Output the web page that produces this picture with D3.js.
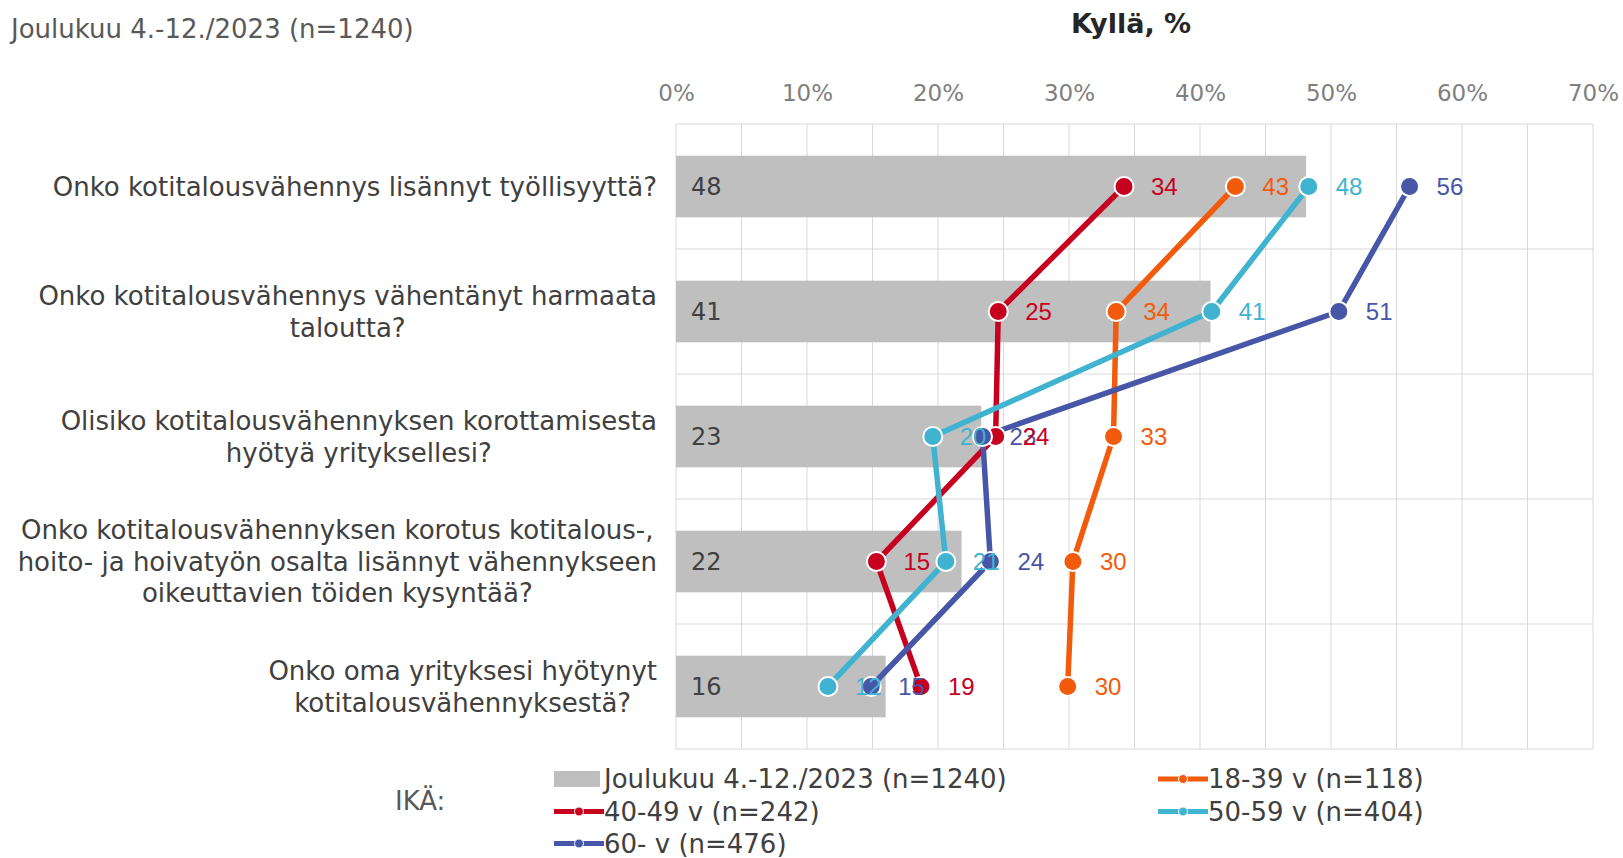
<!DOCTYPE html>
<html><head><meta charset="utf-8">
<script src="https://cdn.jsdelivr.net/npm/d3@7"></script>
<style>body{margin:0;background:#fff}</style>
</head><body><svg id="c" width="1623" height="858"></svg>
<script>
// ---- data ----
const categories = [
  ["Onko kotitalousvähennys lisännyt työllisyyttä?"],
  ["Onko kotitalousvähennys vähentänyt harmaata", "taloutta?"],
  ["Olisiko kotitalousvähennyksen korottamisesta", "hyötyä yrityksellesi?"],
  ["Onko kotitalousvähennyksen korotus kotitalous-,", "hoito- ja hoivatyön osalta lisännyt vähennykseen", "oikeuttavien töiden kysyntää?"],
  ["Onko oma yrityksesi hyötynyt", "kotitalousvähennyksestä?"]
];
const totalValues = [48.1, 40.8, 23.3, 21.8, 16.0];
const age1839 = [42.7, 33.6, 33.4, 30.3, 29.9];
const age4049 = [34.2, 24.6, 24.4, 15.3, 18.7];
const age5059 = [48.3, 40.9, 19.6, 20.6, 11.6];
const age60 = [56.0, 50.6, 23.4, 24.0, 14.9];
const xTickValues = [0, 10, 20, 30, 40, 50, 60, 70];
const totalName = "Joulukuu 4.-12./2023 (n=1240)";
const seriesNames = ["18-39 v (n=118)", "40-49 v (n=242)", "50-59 v (n=404)", "60- v (n=476)"];
const seriesColors = ["#F25A0C", "#C6001E", "#3FB3CF", "#4756A7"];

// ---- layout ----
const svg = d3.select("#c");
const L = 676, R = 1593, T = 124, B = 749;
const x = d3.scaleLinear().domain([0, 70]).range([L, R]);
const y = d3.scaleBand().domain(d3.range(categories.length)).range([T, B]).padding(0);
const barH = y.bandwidth() * 0.493;
const fmt = d3.format(".0f");

// gridlines
svg.append("g").selectAll("line").data(d3.range(0, 71, 5)).join("line")
  .attr("x1", d => x(d)).attr("x2", d => x(d)).attr("y1", T).attr("y2", B)
  .attr("stroke", "#d9d9d9").attr("stroke-width", 1);
svg.append("g").selectAll("line").data(d3.range(categories.length + 1)).join("line")
  .attr("x1", L).attr("x2", R)
  .attr("y1", i => i < categories.length ? y(i) : B).attr("y2", i => i < categories.length ? y(i) : B)
  .attr("stroke", "#d9d9d9").attr("stroke-width", 1);

// axis labels on top
const ax = svg.append("g").attr("transform", `translate(0,${T})`)
  .call(d3.axisTop(x).tickValues(xTickValues).tickFormat(d => d + "%").tickSize(0).tickPadding(23));
ax.select(".domain").remove();
ax.selectAll("text").attr("font-family", "DejaVu Sans").attr("font-size", 23).attr("fill", "#7f7f7f");

// bars
const cy = i => y(i) + y.bandwidth() / 2;
svg.append("g").selectAll("rect").data(totalValues).join("rect")
  .attr("x", x(0)).attr("y", (d, i) => cy(i) - barH / 2)
  .attr("width", d => x(d) - x(0)).attr("height", barH).attr("fill", "#bfbfbf");
svg.append("g").selectAll("text").data(totalValues).join("text")
  .attr("x", x(0) + 15).attr("y", (d, i) => cy(i)).attr("dy", "0.36em")
  .attr("font-family", "DejaVu Sans").attr("font-size", 24).attr("fill", "#404040")
  .text(d => fmt(d));

// series lines/markers/labels
const series = [age1839, age4049, age5059, age60];
const line = d3.line().x(d => x(d)).y((d, i) => cy(i));
const lineG = svg.append("g"), markG = svg.append("g"), labG = svg.append("g");
[0, 1, 2, 3].forEach(si => {
  lineG.append("path").attr("d", line(series[si])).attr("fill", "none")
    .attr("stroke", seriesColors[si]).attr("stroke-width", 5.5).attr("stroke-linejoin", "round");
});
[0, 1, 2, 3].forEach(si => {
  markG.append("g").selectAll("circle").data(series[si]).join("circle")
    .attr("cx", d => x(d)).attr("cy", (d, i) => cy(i)).attr("r", 9.5)
    .attr("fill", seriesColors[si]).attr("stroke", "#fff").attr("stroke-width", 2);
});
[0, 2, 3, 1].forEach(si => {
  labG.append("g").selectAll("text").data(series[si]).join("text")
    .attr("x", d => x(d) + 27).attr("y", (d, i) => cy(i)).attr("dy", "0.36em")
    .attr("font-family", "Liberation Sans, Arial").attr("font-size", 24).attr("fill", seriesColors[si])
    .text(d => fmt(d));
});

// category labels
const catG = svg.append("g");
categories.forEach((lines, i) => {
  const t = catG.append("text").attr("font-family", "DejaVu Sans").attr("font-size", 26)
    .attr("fill", "#404040").attr("text-anchor", "middle");
  const lh = 31.5;
  const y0 = cy(i) - (lines.length - 1) * lh / 2;
  const spans = lines.map((s, k) => t.append("tspan").attr("y", y0 + k * lh).attr("dy", "0.36em").text(s));
  const maxW = d3.max(spans, s => s.node().getComputedTextLength());
  const cx = L - 19 - maxW / 2;
  spans.forEach(s => s.attr("x", cx));
});

// titles
svg.append("text").attr("x", 11).attr("y", 38).attr("font-family", "DejaVu Sans")
  .attr("font-size", 26).attr("fill", "#595959").text(totalName);
svg.append("text").attr("x", 1131).attr("y", 33).attr("text-anchor", "middle")
  .attr("font-family", "DejaVu Sans").attr("font-weight", "bold").attr("font-size", 27)
  .attr("fill", "#262626").text("Kyllä, %");

// legend
const lg = svg.append("g");
lg.append("text").attr("x", 395).attr("y", 801).attr("dy", "0.36em")
  .attr("font-family", "DejaVu Sans").attr("font-size", 26).attr("fill", "#595959").text("IKÄ:");
const legendItems = [
  { name: totalName, type: "bar", col: 0, row: 0 },
  { name: seriesNames[0], type: "line", color: seriesColors[0], col: 1, row: 0 },
  { name: seriesNames[1], type: "line", color: seriesColors[1], col: 0, row: 1 },
  { name: seriesNames[2], type: "line", color: seriesColors[2], col: 1, row: 1 },
  { name: seriesNames[3], type: "line", color: seriesColors[3], col: 0, row: 2 }
];
const colX = [554, 1158], rowY = [779, 811.5, 843.5];
legendItems.forEach(it => {
  const x0 = colX[it.col], yy = rowY[it.row];
  if (it.type === "bar") {
    lg.append("rect").attr("x", x0).attr("y", yy - 8).attr("width", 46).attr("height", 16).attr("fill", "#bfbfbf");
  } else {
    lg.append("line").attr("x1", x0).attr("x2", x0 + 50).attr("y1", yy).attr("y2", yy)
      .attr("stroke", it.color).attr("stroke-width", 5);
    lg.append("circle").attr("cx", x0 + 25).attr("cy", yy).attr("r", 4.5)
      .attr("fill", it.color).attr("stroke", "#fff").attr("stroke-width", 1);
  }
  lg.append("text").attr("x", x0 + 50).attr("y", yy).attr("dy", "0.36em")
    .attr("font-family", "DejaVu Sans").attr("font-size", 26).attr("fill", "#404040").text(it.name);
});
</script>
</body></html>
